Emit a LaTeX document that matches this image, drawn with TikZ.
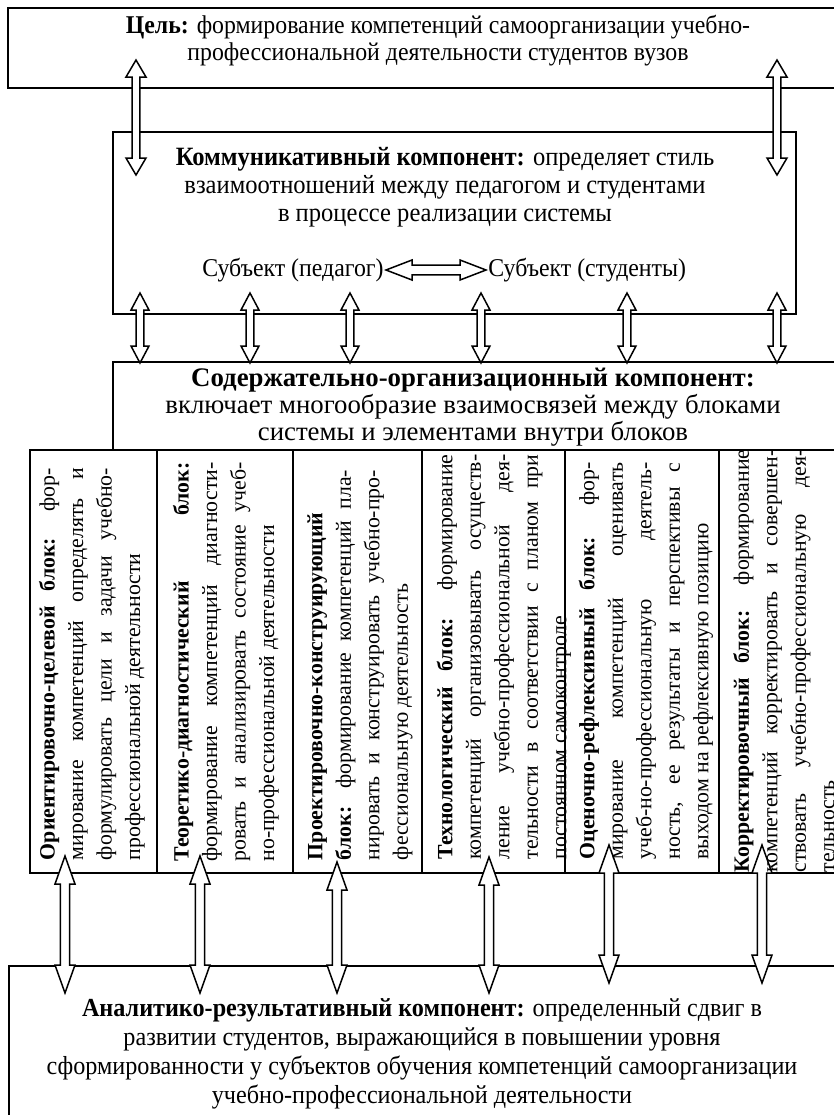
\documentclass[tikz,border=0pt]{standalone}
\usepackage{fontspec}
\setmainfont{Liberation Serif}
\newfontfamily\condfont{Liberation Serif}[FakeStretch=0.93]
\usetikzlibrary{calc,fit}
\newcommand\blkline[2]{\makebox[#1][s]{#2}}
\newcommand\blklast[2]{\makebox[#1][l]{#2}}
% vertical hollow double arrow: top, bottom, head length, head half-width, shaft half-width
\newcommand\vdarrow[5]{%
  \draw[arr] let \p1=(#1), \p2=(#2) in
    (\x1,\y1) -- (\x1+#4,\y1-#3) -- (\x1+#5,\y1-#3) -- (\x1+#5,\y2+#3) -- (\x1+#4,\y2+#3)
    -- (\x1,\y2) -- (\x1-#4,\y2+#3) -- (\x1-#5,\y2+#3) -- (\x1-#5,\y1-#3) -- (\x1-#4,\y1-#3) -- cycle;}
% horizontal hollow double arrow: left, right, head length, head half-width, shaft half-width
\newcommand\hdarrow[5]{%
  \draw[arr] let \p1=(#1), \p2=(#2) in
    (\x1,\y1) -- (\x1+#3,\y1+#4) -- (\x1+#3,\y1+#5) -- (\x2-#3,\y1+#5) -- (\x2-#3,\y1+#4)
    -- (\x2,\y1) -- (\x2-#3,\y1-#4) -- (\x2-#3,\y1-#5) -- (\x1+#3,\y1-#5) -- (\x1+#3,\y1-#4) -- cycle;}
\begin{document}
\begin{tikzpicture}[x=0.5pt,y=-0.5pt,
  box/.style={draw, line width=0.75pt, inner sep=0pt},
  arr/.style={draw, line width=0.75pt, fill=white, line join=miter},
  ctext/.style={font=\condfont\fontsize{12.8}{13.5}\selectfont, align=center, inner sep=0pt},
  rtext/.style={font=\fontsize{13.4}{13.6}\selectfont, align=center, inner sep=0pt},
  btext/.style={rotate=90, inner sep=0pt, align=left, font=\fontsize{10.9}{14.25}\selectfont}]
\useasboundingbox (0,0) rectangle (834,1115);
\clip (0,0) rectangle (834,1115);
\fill[white] (0,0) rectangle (834,1115);

% boxes
\node[box, fit={(8,8)(850,88)}] (goal) {};
\node[box, fit={(113,132)(796,314)}] (comm) {};
\node[box, fit={(113,362)(850,450)}] (cont) {};
\node[box, fit={(30,450)(157,873)}] (b1) {};
\node[box, fit={(157,450)(293,873)}] (b2) {};
\node[box, fit={(293,450)(422,873)}] (b3) {};
\node[box, fit={(422,450)(565,873)}] (b4) {};
\node[box, fit={(565,450)(719,873)}] (b5) {};
\node[box, fit={(719,450)(850,873)}] (b6) {};
\node[box, fit={(9,966)(850,1130)}] (res) {};

% arrow end points
\coordinate (g1t) at (136,60);  \coordinate (g1b) at (136,175);
\coordinate (g2t) at (777,60);  \coordinate (g2b) at (777,175);
\foreach \i/\xx in {1/140,2/250,3/350,4/481,5/627,6/777}{
  \coordinate (m\i t) at (\xx,293); \coordinate (m\i b) at (\xx,363);}
\coordinate (d1t) at (65,856);  \coordinate (d1b) at (65,993);
\coordinate (d2t) at (200,856); \coordinate (d2b) at (200,993);
\coordinate (d3t) at (337,862); \coordinate (d3b) at (337,993);
\coordinate (d4t) at (489,857); \coordinate (d4b) at (489,993);
\coordinate (d5t) at (609,845); \coordinate (d5b) at (609,983);
\coordinate (d6t) at (762,845); \coordinate (d6b) at (762,983);

% arrows
\vdarrow{g1t}{g1b}{8.5pt}{5pt}{1.9pt}
\vdarrow{g2t}{g2b}{8.5pt}{5pt}{1.9pt}
\foreach \i in {1,...,6}{\vdarrow{m\i t}{m\i b}{8.5pt}{4.5pt}{1.9pt}}
\foreach \i in {1,...,6}{\vdarrow{d\i t}{d\i b}{14pt}{5pt}{2.3pt}}

% texts
\node[ctext] (goalt) at (438,41) {\textbf{Цель:} формирование компетенций самоорганизации учебно-\\профессиональной деятельности студентов вузов};
\node[ctext, font=\condfont\fontsize{13.2}{14}\selectfont] (commt) at (445,187) {\textbf{Коммуникативный компонент:} определяет стиль\\взаимоотношений между педагогом и студентами\\в процессе реализации системы};
\node[ctext, anchor=east, inner sep=1pt] (s1) at (386,270) {Субъект (педагог)};
\node[ctext, anchor=west, inner sep=1pt] (s2) at (486,270) {Субъект (студенты)};
\hdarrow{s1.east}{s2.west}{13pt}{5pt}{2.4pt}
\node[rtext] (contt) at (473,407) {\textbf{Содержательно-организационный компонент:}\\включает многообразие взаимосвязей между блоками\\системы и элементами внутри блоков};
\node[ctext, font=\condfont\fontsize{13}{14.5}\selectfont] (rest) at (422,1054) {\textbf{Аналитико-результативный компонент:} определенный сдвиг в\\развитии студентов, выражающийся в повышении уровня\\сформированности у субъектов обучения компетенций самоорганизации\\учебно-профессиональной деятельности};

% block texts
\node[btext] (t1) at (92,664) {%
\blkline{196pt}{\textbf{Ориентировочно-целевой блок:} фор-}\\
\blkline{196pt}{мирование компетенций определять и}\\
\blkline{196pt}{формулировать цели и задачи учебно-}\\
\blklast{196pt}{профессиональной деятельности}};
\node[btext] (t2) at (226,662) {%
\blkline{199.5pt}{\textbf{Теоретико-диагностический блок:}}\\
\blkline{199.5pt}{формирование компетенций диагности-}\\
\blkline{199.5pt}{ровать и анализировать состояние учеб-}\\
\blklast{199.5pt}{но-профессиональной деятельности}};
\node[btext] (t3) at (360,665) {%
\blklast{195pt}{\textbf{Проектировочно-конструирующий}}\\
\blkline{195pt}{\textbf{блок:} формирование компетенций пла-}\\
\blkline{195pt}{нировать и конструировать учебно-про-}\\
\blklast{195pt}{фессиональную деятельность}};
\node[btext] (t4) at (504,657) {%
\blkline{202.5pt}{\textbf{Технологический блок:} формирование}\\
\blkline{202.5pt}{компетенций организовывать осуществ-}\\
\blkline{202.5pt}{ление учебно-профессиональной дея-}\\
\blkline{202.5pt}{тельности в соответствии с планом при}\\
\blklast{202.5pt}{постоянном самоконтроле}};
\node[btext] (t5) at (646,661) {%
\blkline{198.5pt}{\textbf{Оценочно-рефлексивный блок:} фор-}\\
\blkline{198.5pt}{мирование компетенций оценивать}\\
\blkline{198.5pt}{учеб-но-профессиональную деятель-}\\
\blkline{198.5pt}{ность, ее результаты и перспективы с}\\
\blklast{198.5pt}{выходом на рефлексивную позицию}};
\node[btext] (t6) at (784,661) {%
\blkline{211.5pt}{\textbf{Корректировочный блок:} формирование}\\
\blkline{211.5pt}{компетенций корректировать и совершен-}\\
\blkline{211.5pt}{ствовать учебно-профессиональную дея-}\\
\blklast{211.5pt}{тельность}};
\end{tikzpicture}
\end{document}
